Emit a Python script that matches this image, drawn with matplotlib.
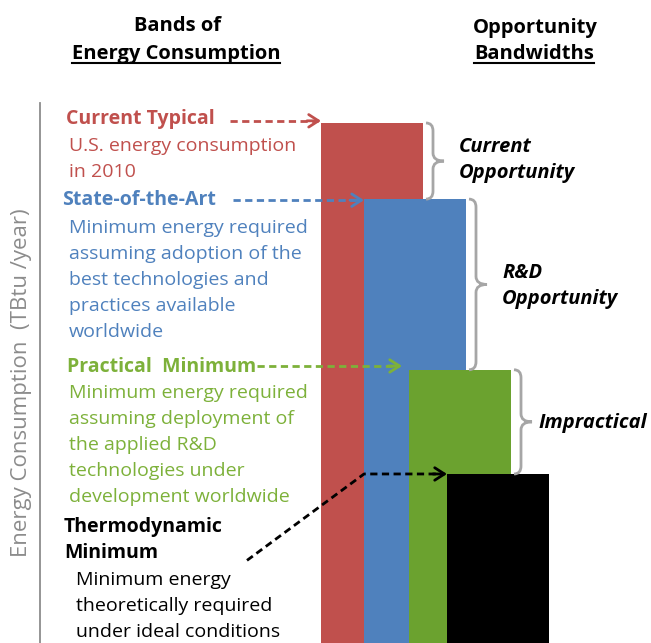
import numpy as np
import matplotlib
matplotlib.use("Agg")
import matplotlib.pyplot as plt
from matplotlib.path import Path
from matplotlib.patches import PathPatch
from matplotlib.lines import Line2D

# energy levels (relative units, top of axis = 100)
bands = ["Current Typical", "State-of-the-Art", "Practical  Minimum", "Thermodynamic\nMinimum"]
levels = [96.3, 82.2, 50.6, 31.3]
bar_colors = ["#C0504D", "#4F81BD", "#6BA22F", "#000000"]
text_colors = ["#C0504D", "#4F81BD", "#7DB13A", "#000000"]
descriptions = [
    ["U.S. energy consumption", "in 2010"],
    ["Minimum energy required", "assuming adoption of the", "best technologies and",
     "practices available", "worldwide"],
    ["Minimum energy required", "assuming deployment of", "the applied R&D",
     "technologies under", "development worldwide"],
    ["Minimum energy", "theoretically required", "under ideal conditions"],
]
gaps = ["Current\nOpportunity", "R&D\nOpportunity", "Impractical"]

W, H = 651, 643
plt.rcParams["font.family"] = ["Open Sans", "DejaVu Sans"]
fig = plt.figure(figsize=(W / 100, H / 100), dpi=100)


def fp(x, y):
    # pixel position -> figure fraction
    return x / W, 1 - y / H


# axes: x in pixels from the axis line, y in energy units
ax = fig.add_axes([40 / W, 0, (W - 40) / W, 540 / H])
ax.set_xlim(0, W - 40)
ax.set_ylim(0, 100)
for s in ["top", "right", "bottom"]:
    ax.spines[s].set_visible(False)
ax.spines["left"].set_color("#8C8C8C")
ax.spines["left"].set_linewidth(1.3)
ax.set_xticks([])
ax.set_yticks([])
ax.patch.set_alpha(0)

ypx = 540 / 100  # pixels per energy unit
bar_w = 102
lefts = 281 + np.array([0, 43, 88, 126])
ax.bar(lefts, levels, width=bar_w, align="edge", color=bar_colors, zorder=2)


def dashed_arrow(pts, color):
    xs = [p[0] for p in pts]
    ys = [p[1] for p in pts]
    ax.plot(xs[:-1] + [xs[-1] - 3], ys, color=color, lw=2, dashes=(2.6, 1.6), zorder=3,
            solid_capstyle="butt", clip_on=False)
    ax.annotate("", xy=(xs[-1], ys[-1]), xytext=(xs[-1] - 14, ys[-1]),
                arrowprops=dict(arrowstyle="->,head_length=0.7,head_width=0.45",
                                color=color, lw=2, shrinkA=0, shrinkB=0),
                zorder=3, annotation_clip=False)


# arrows from labels to the band tops
dashed_arrow([(190, levels[0] + 0.4), (lefts[0], levels[0] + 0.4)], text_colors[0])
dashed_arrow([(193, levels[1] - 0.2), (lefts[1], levels[1] - 0.2)], bar_colors[1])
dashed_arrow([(217, levels[2] + 0.7), (lefts[2] - 7, levels[2] + 0.7)], text_colors[2])
dashed_arrow([(207, levels[3] - 16), (lefts[1], levels[3]), (lefts[3], levels[3])], "#000000")


def brace(x, top, bot):
    e, sp, tip, r = x + 3, x + 10, x + 21, 8
    mid = (top + bot) / 2
    verts = [(e, top), (sp, top), (sp, top - r / ypx),
             (sp, mid + r / ypx),
             (sp, mid), (tip, mid),
             (sp, mid), (sp, mid - r / ypx),
             (sp, bot + r / ypx),
             (sp, bot), (e, bot)]
    codes = [Path.MOVETO, Path.CURVE3, Path.CURVE3, Path.LINETO,
             Path.CURVE3, Path.CURVE3, Path.CURVE3, Path.CURVE3,
             Path.LINETO, Path.CURVE3, Path.CURVE3]
    ax.add_patch(PathPatch(Path(verts, codes), fc="none", ec="#A6A6A6", lw=2,
                           clip_on=False, zorder=3))


for i in range(3):
    brace(lefts[i] + bar_w, levels[i], levels[i + 1])

# opportunity labels
gap_pos = [(459, 160), (502, 286), (538, 423)]
for label, (x, y) in zip(gaps, gap_pos):
    fig.text(*fp(x, y), label, fontsize=14.5, fontweight="bold", style="italic",
             ha="left", va="center", linespacing=1.42)

# band labels on the left
title_pos = [(66, 119), (62, 200), (67, 367), (64, 540)]
desc_pos = [(69, 146), (69, 228), (69, 393), (76, 580)]
for i in range(4):
    fig.text(*fp(*title_pos[i]), bands[i], color=text_colors[i], fontsize=14,
             fontweight="bold", ha="left", va="center", linespacing=1.4)
    x0, y0 = desc_pos[i]
    for k, line in enumerate(descriptions[i]):
        fig.text(*fp(x0, y0 + k * 26), line, color=text_colors[i], fontsize=14,
                 ha="left", va="center")

# y axis label
fig.text(*fp(22, 383), "Energy Consumption  (TBtu /year)", rotation=90, color="#8C8C8C",
         fontsize=16, ha="center", va="center")

# headers
hdr = dict(fontsize=14.5, fontweight="bold", ha="center", va="center")
fig.text(*fp(178, 26), "Bands of", **hdr)
h1 = fig.text(*fp(176, 54), "Energy Consumption", **hdr)
fig.text(*fp(535, 28), "Opportunity", **hdr)
h2 = fig.text(*fp(534, 54), "Bandwidths", **hdr)

fig.canvas.draw()
for t in (h1, h2):
    bb = t.get_window_extent().transformed(fig.transFigure.inverted())
    fig.add_artist(Line2D([bb.x0, bb.x1], [bb.y0 + 0.002, bb.y0 + 0.002], color="black",
                          lw=1.5, transform=fig.transFigure))

fig.savefig("out.png", dpi=100)
